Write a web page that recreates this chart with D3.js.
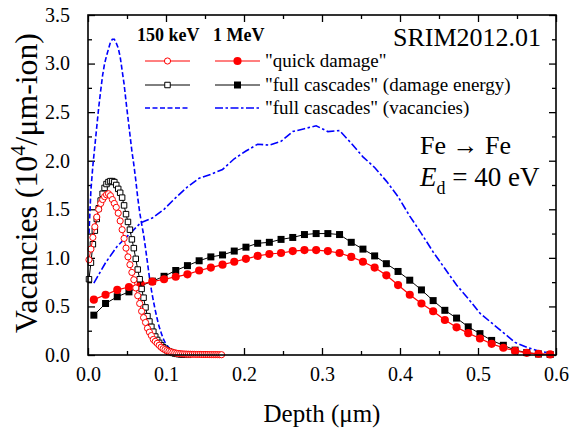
<!DOCTYPE html>
<html>
<head>
<meta charset="utf-8">
<script src="https://cdn.jsdelivr.net/npm/d3@7"></script>
<style>
  body { margin: 0; background: #fff; }
</style>
</head>
<body>
<svg id="chart" width="569" height="430"></svg>
<script>
// ---- data (depth in um, vacancies in 1e4 / um-ion) ----

// 150 keV runs (fine depth bins)
const depth150 = [0.00125,0.00375,0.00625,0.00875,0.01125,0.01375,0.01625,0.01875,0.02125,0.02375,
  0.02625,0.02875,0.03125,0.03375,0.03625,0.03875,0.04125,0.04375,0.04625,0.04875,
  0.05125,0.05375,0.05625,0.05875,0.06125,0.06375,0.06625,0.06875,0.07125,0.07375,
  0.07625,0.07875,0.08125,0.08375,0.08625,0.08875,0.09125,0.09375,0.09625,0.09875,
  0.10125,0.10375,0.10625,0.10875,0.11125,0.11375,0.11625,0.11875,0.12125,0.12375,
  0.12625,0.12875,0.13125,0.13375,0.13625,0.13875,0.14125,0.14375,0.14625,0.14875,
  0.15125,0.15375,0.15625,0.15875,0.16125,0.16375,0.16625,0.16875,0.17125];

const quick150 = [0.98,1.09,1.21,1.32,1.42,1.50,1.56,1.60,1.63,1.65,
  1.66,1.64,1.60,1.56,1.52,1.46,1.38,1.29,1.20,1.10,
  1.01,0.93,0.85,0.775,0.69,0.61,0.53,0.45,0.385,0.335,
  0.275,0.235,0.20,0.16,0.14,0.12,0.10,0.08,0.065,0.055,
  0.045,0.038,0.032,0.027,0.022,0.018,0.015,0.013,0.011,0.01,
  0.009,0.008,0.008,0.007,0.007,0.006,0.006,0.006,0.005,0.005,
  0.005,0.005,0.004,0.004,0.004,0.004,0.004,0.003,0.003];

const cascade150 = [0.78,0.95,1.14,1.28,1.40,1.51,1.59,1.66,1.72,1.76,
  1.78,1.79,1.79,1.78,1.75,1.71,1.67,1.62,1.54,1.45,
  1.37,1.29,1.19,1.10,0.99,0.88,0.78,0.68,0.59,0.49,
  0.40,0.345,0.29,0.24,0.19,0.155,0.125,0.10,0.08,0.062,
  0.048,0.038,0.03,0.022,0.016,0.012,0.009,0.007,0.005,0.004,
  0.003,0.002];

const vac150 = [1.25,1.70,1.95,2.15,2.35,2.55,2.72,2.88,3.00,3.08,
  3.15,3.22,3.25,3.25,3.21,3.16,3.07,2.93,2.79,2.61,
  2.44,2.27,2.10,1.96,1.80,1.62,1.47,1.35,1.24,1.10,
  0.95,0.80,0.67,0.56,0.46,0.37,0.29,0.23,0.17,0.13,
  0.10,0.075,0.055,0.04,0.03,0.025,0.02,0.016,0.012,0.01,
  0.008,0.007,0.006,0.005,0.005,0.004,0.004,0.004,0.003,0.003,
  0.003,0.003,0.002,0.002,0.002,0.002,0.002,0.002,0.002];

// 1 MeV runs (coarse depth bins)
const depth1MeV = [0.0075,0.0225,0.0375,0.0525,0.0675,0.0825,0.0975,0.1125,0.1275,0.1425,
  0.1575,0.1725,0.1875,0.2025,0.2175,0.2325,0.2475,0.2625,0.2775,0.2925,
  0.3075,0.3225,0.3375,0.3525,0.3675,0.3825,0.3975,0.4125,0.4275,0.4425,
  0.4575,0.4725,0.4875,0.5025,0.5175,0.5325,0.5475,0.5625,0.5775,0.5925];

const quick1MeV = [0.57,0.62,0.67,0.70,0.73,0.755,0.78,0.805,0.83,0.87,
  0.90,0.93,0.96,0.99,1.02,1.04,1.05,1.07,1.08,1.08,
  1.07,1.05,1.01,0.96,0.90,0.82,0.72,0.62,0.53,0.45,
  0.36,0.285,0.225,0.17,0.115,0.075,0.042,0.022,0.012,0.006];

const cascade1MeV = [0.41,0.53,0.60,0.65,0.71,0.76,0.81,0.87,0.92,0.97,
  1.01,1.03,1.07,1.11,1.15,1.16,1.19,1.21,1.24,1.25,
  1.25,1.24,1.16,1.09,1.02,0.94,0.86,0.77,0.67,0.56,
  0.46,0.38,0.29,0.22,0.15,0.10,0.05,0.025,0.01,0.005];

const vac1MeV = [0.74,0.95,1.12,1.24,1.36,1.41,1.50,1.62,1.73,1.82,
  1.86,1.91,2.02,2.10,2.17,2.16,2.20,2.30,2.33,2.36,
  2.30,2.31,2.18,2.04,1.93,1.79,1.63,1.43,1.25,1.06,
  0.89,0.72,0.58,0.43,0.33,0.23,0.13,0.08,0.04,0.02];

const xTicks = [0, 0.1, 0.2, 0.3, 0.4, 0.5, 0.6];
const xMinor = [0.05, 0.15, 0.25, 0.35, 0.45, 0.55];
const yTicks = [0, 0.5, 1.0, 1.5, 2.0, 2.5, 3.0, 3.5];
const yMinor = [0.25, 0.75, 1.25, 1.75, 2.25, 2.75, 3.25];

const legendRows = ['"quick damage"', '"full cascades" (damage energy)', '"full cascades" (vacancies)'];

const serif = "Liberation Serif";

// ---- chart ----
const svg = d3.select("#chart");
const margin = { top: 15, right: 13, bottom: 75, left: 88 };
const width = +svg.attr("width") - margin.left - margin.right;
const height = +svg.attr("height") - margin.top - margin.bottom;

const g = svg.append("g").attr("transform", "translate(" + margin.left + "," + margin.top + ")");

const x = d3.scaleLinear().domain([0, 0.6]).range([0, width]);
const y = d3.scaleLinear().domain([0, 3.5]).range([height, 0]);

const fmt = d3.format(".1f");

function styleAxis(sel) {
  sel.attr("font-family", serif).attr("font-size", 20);
  sel.select(".domain").remove();
  sel.selectAll("line").attr("stroke", "#000").attr("stroke-width", 1.3);
  sel.selectAll("text").attr("fill", "#000");
}

// major + minor ticks, pointing inwards on all four sides
g.append("g").attr("transform", "translate(0," + height + ")")
  .call(d3.axisBottom(x).tickValues(xTicks).tickSize(-7).tickPadding(12).tickFormat(fmt))
  .call(styleAxis);
g.append("g").attr("transform", "translate(0," + height + ")")
  .call(d3.axisBottom(x).tickValues(xMinor).tickSize(-4).tickFormat(""))
  .call(styleAxis);
g.append("g")
  .call(d3.axisTop(x).tickValues(xTicks).tickSize(-7).tickFormat(""))
  .call(styleAxis);
g.append("g")
  .call(d3.axisTop(x).tickValues(xMinor).tickSize(-4).tickFormat(""))
  .call(styleAxis);

g.append("g")
  .call(d3.axisLeft(y).tickValues(yTicks).tickSize(-7).tickPadding(18).tickFormat(fmt))
  .call(styleAxis);
g.append("g")
  .call(d3.axisLeft(y).tickValues(yMinor).tickSize(-4).tickFormat(""))
  .call(styleAxis);
g.append("g").attr("transform", "translate(" + width + ",0)")
  .call(d3.axisRight(y).tickValues(yTicks).tickSize(-7).tickFormat(""))
  .call(styleAxis);
g.append("g").attr("transform", "translate(" + width + ",0)")
  .call(d3.axisRight(y).tickValues(yMinor).tickSize(-4).tickFormat(""))
  .call(styleAxis);

// series
const line = d3.line().x(d => x(d[0])).y(d => y(d[1]));

function drawSeries(xs, ys, opt) {
  const pts = ys.map((v, i) => [xs[i], v]);
  g.append("path").datum(pts)
    .attr("d", line)
    .attr("fill", "none")
    .attr("stroke", opt.color)
    .attr("stroke-width", opt.lw)
    .attr("stroke-dasharray", opt.dash || null);
  if (opt.symbol) {
    const sym = d3.symbol().type(opt.symbol).size(opt.size);
    g.append("g").selectAll("path")
      .data(pts)
      .join("path")
      .attr("transform", d => "translate(" + x(d[0]) + "," + y(d[1]) + ")")
      .attr("d", sym)
      .attr("fill", opt.fill)
      .attr("stroke", opt.color)
      .attr("stroke-width", opt.open ? 1 : 0);
  }
}

const styles = {
  vac1MeV: { color: "#0000ff", lw: 1.6, dash: "8,2.5,2.5,2.5" },
  vac150: { color: "#0000ff", lw: 1.6, dash: "5,2.5" },
  cascade1MeV: { color: "#000", lw: 1, symbol: d3.symbolSquare, size: 49, fill: "#000" },
  quick1MeV: { color: "#ff0000", lw: 1.2, symbol: d3.symbolCircle, size: 52, fill: "#ff0000" },
  cascade150: { color: "#000", lw: 1, symbol: d3.symbolSquare, size: 30, fill: "#fff", open: true },
  quick150: { color: "#ff0000", lw: 1, symbol: d3.symbolCircle, size: 30, fill: "#fff", open: true }
};

drawSeries(depth1MeV, vac1MeV, styles.vac1MeV);
drawSeries(depth150, vac150, styles.vac150);
drawSeries(depth1MeV, cascade1MeV, styles.cascade1MeV);
drawSeries(depth1MeV, quick1MeV, styles.quick1MeV);
drawSeries(depth150, cascade150, styles.cascade150);
drawSeries(depth150, quick150, styles.quick150);

// frame
g.append("rect").attr("width", width).attr("height", height)
  .attr("fill", "none").attr("stroke", "#000").attr("stroke-width", 1.6);

// axis titles
svg.append("text")
  .attr("x", margin.left + width / 2).attr("y", 422)
  .attr("text-anchor", "middle").attr("font-family", serif).attr("font-size", 25)
  .text("Depth (\u03bcm)");

// y title: starts at the bottom (y=333) and runs up to about y=32
const yTitle = svg.append("text")
  .attr("font-family", serif).attr("font-size", 29);
yTitle.append("tspan").text("Vacancies (10");
yTitle.append("tspan").attr("dy", -11).attr("font-size", 19).text("4");
yTitle.append("tspan").attr("dy", 11).text("/\u03bcm-ion)");
const titleLen = yTitle.node().getComputedTextLength();
const k = 300 / titleLen;
yTitle.attr("transform", "translate(37,333) rotate(-90) scale(" + k + ")");

// legend
const leg = svg.append("g").attr("font-family", serif);
leg.append("text").attr("x", 137).attr("y", 41)
  .attr("font-size", 18).attr("font-weight", "bold").text("150 keV");
leg.append("text").attr("x", 213).attr("y", 41)
  .attr("font-size", 18).attr("font-weight", "bold").text("1 MeV");

const rowY = [61, 85, 108];
const legendStyles = [
  [styles.quick150, styles.quick1MeV],
  [styles.cascade150, styles.cascade1MeV],
  [styles.vac150, styles.vac1MeV]
];
const colX = [[145, 190], [215, 260]];

legendStyles.forEach(function(pair, r) {
  pair.forEach(function(st, c) {
    const x0 = colX[c][0], x1 = colX[c][1];
    leg.append("line")
      .attr("x1", x0).attr("x2", x1).attr("y1", rowY[r]).attr("y2", rowY[r])
      .attr("stroke", st.color).attr("stroke-width", st.lw)
      .attr("stroke-dasharray", st.dash || null);
    if (st.symbol) {
      leg.append("path")
        .attr("transform", "translate(" + ((x0 + x1) / 2) + "," + rowY[r] + ")")
        .attr("d", d3.symbol().type(st.symbol).size(st.size))
        .attr("fill", st.fill).attr("stroke", st.color)
        .attr("stroke-width", st.open ? 1 : 0);
    }
  });
  leg.append("text").attr("x", 265).attr("y", rowY[r] + 6)
    .attr("font-size", 19).text(legendRows[r]);
});

// annotations
const notes = svg.append("g").attr("font-family", serif);
notes.append("text").attr("x", 541).attr("y", 46).attr("text-anchor", "end")
  .attr("font-size", 26).text("SRIM2012.01");
notes.append("text").attr("x", 420).attr("y", 154)
  .attr("font-size", 26).text("Fe \u2192 Fe");
const ed = notes.append("text").attr("x", 420).attr("y", 186).attr("font-size", 27);
ed.append("tspan").attr("font-style", "italic").text("E");
ed.append("tspan").attr("dy", 8).attr("font-size", 18).text("d");
ed.append("tspan").attr("dy", -8).text(" = 40 eV");
</script>
</body>
</html>
